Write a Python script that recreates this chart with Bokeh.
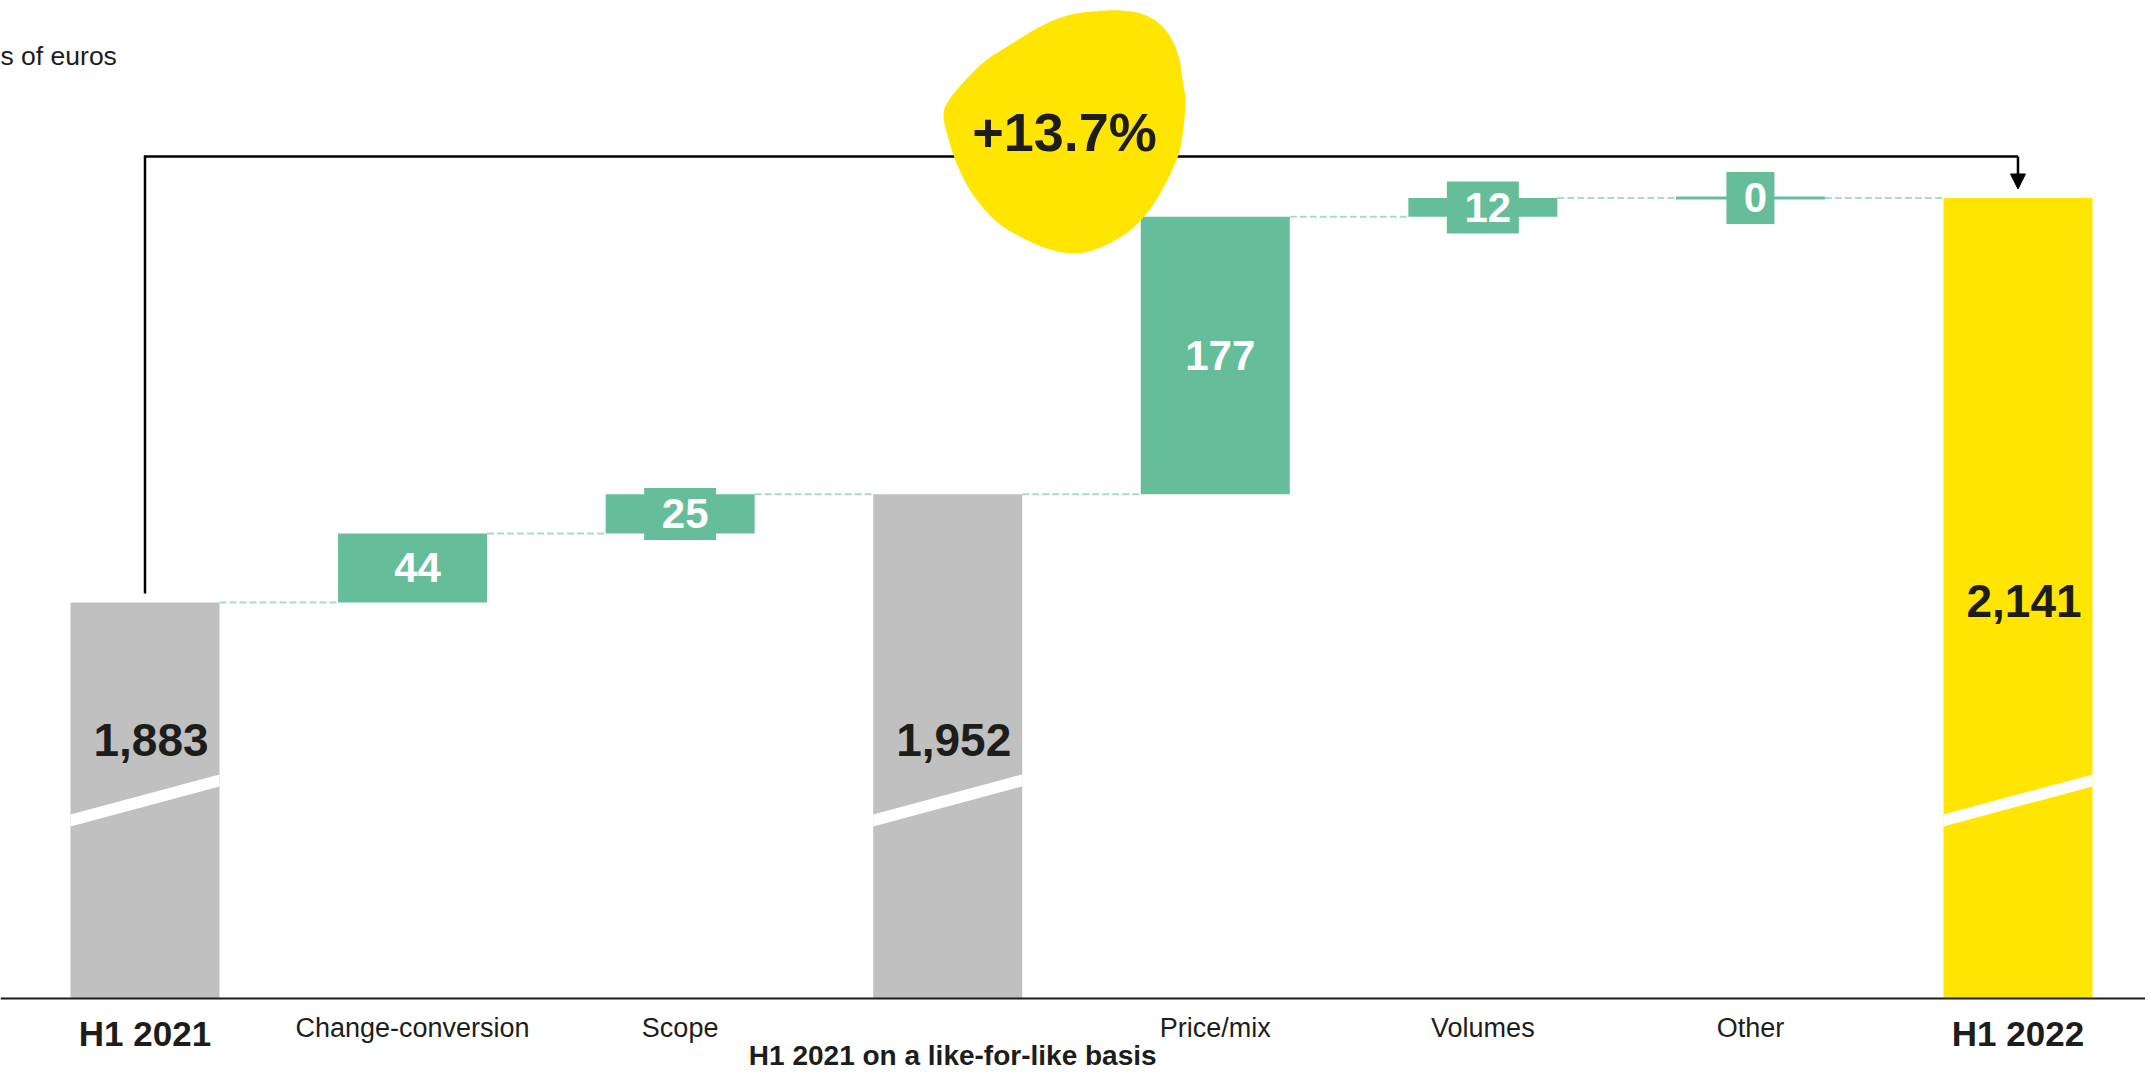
from bokeh.plotting import figure
from bokeh.models import Span, Arrow, NormalHead
from bokeh.core.properties import value
from bokeh.embed import file_html
from bokeh.resources import INLINE

# ---------------- data ----------------
categories = ["H1 2021", "Change-conversion", "Scope", "H1 2021 on a like-for-like basis",
              "Price/mix", "Volumes", "Other", "H1 2022"]
kinds = ["total", "delta", "delta", "total", "delta", "delta", "delta", "total"]
values = [1883, 44, 25, 1952, 177, 12, 0, 2141]
value_labels = ["1,883", "44", "25", "1,952", "177", "12", "0", "2,141"]
growth_label = "+13.7%"
unit_label = "s of euros"

# ---------------- layout / style ----------------
W, H = 2145, 1075
PX_PER_CAT = 267.57
X0_PX = 144.5
PX_PER_UNIT = 1.5678
FLOOR = 1630.4          # value drawn at the (broken) baseline
BASE_PX = 998           # baseline position from top of canvas
BAR_W = 149 / PX_PER_CAT

GREEN = "#66BD99"
GREY = "#C0C0C0"
YELLOW = "#FFE500"
DARK = "#1D1D1B"
CONNECT = "#A8DCC6"
FONT = "Liberation Sans"


def dx(px):
    return px / PX_PER_CAT


def dy(px):
    return px / PX_PER_UNIT


x_start = -X0_PX / PX_PER_CAT
x_end = x_start + W / PX_PER_CAT
y_end = FLOOR + BASE_PX / PX_PER_UNIT
y_start = FLOOR - (H - BASE_PX) / PX_PER_UNIT

p = figure(width=W, height=H, x_range=(x_start, x_end), y_range=(y_start, y_end),
           output_backend="svg", toolbar_location=None, min_border=0)
p.axis.visible = False
p.grid.visible = False
p.outline_line_color = None
p.background_fill_color = "white"

# ---------------- compute waterfall ----------------
xs = list(range(len(categories)))
bottoms, tops, levels_after = [], [], []
level = 0
for k, v in zip(kinds, values):
    if k == "total":
        bottoms.append(FLOOR)
        tops.append(v)
        level = v
    else:
        bottoms.append(level)
        tops.append(level + v)
        level = level + v
    levels_after.append(level)

# connectors
for i in range(len(xs) - 1):
    p.segment(x0=xs[i] + BAR_W / 2, y0=levels_after[i], x1=xs[i + 1] - BAR_W / 2,
              y1=levels_after[i], line_color=CONNECT, line_width=2, line_dash="7 3")

# bracket with arrow (drawn behind the blob)
BRACKET_Y = 2141 + dy(41.5)
p.line(x=[xs[0], xs[0], xs[-1]], y=[values[0] + dy(9), BRACKET_Y, BRACKET_Y],
       line_color="black", line_width=2.5, line_join="miter")
p.add_layout(Arrow(end=NormalHead(size=15, fill_color="black", line_color="black"),
                   x_start=xs[-1], y_start=BRACKET_Y, x_end=xs[-1], y_end=values[-1] + dy(9),
                   line_color="black", line_width=2.5))

# bars
for i, k in enumerate(kinds):
    if k == "total":
        col = YELLOW if i == len(kinds) - 1 else GREY
        p.vbar(x=[xs[i]], bottom=[bottoms[i]], top=[tops[i]], width=BAR_W,
               fill_color=col, line_color=None)
    else:
        if values[i] == 0:
            p.segment(x0=xs[i] - BAR_W / 2, y0=bottoms[i], x1=xs[i] + BAR_W / 2, y1=bottoms[i],
                      line_color=GREEN, line_width=3)
        else:
            p.vbar(x=[xs[i]], bottom=[bottoms[i]], top=[tops[i]], width=BAR_W,
                   fill_color=GREEN, line_color=None)
        # label box for small deltas
        if abs(values[i]) * PX_PER_UNIT < 52:
            n = len(value_labels[i])
            p.rect(x=[xs[i]], y=[(bottoms[i] + tops[i]) / 2], width=dx(24 * n + 24), height=dy(52),
                   fill_color=GREEN, line_color=None)

# axis breaks (white slanted stripes)
BREAK_Y = 1744.0
BREAK_RISE = dy(40)
BREAK_GAP = dy(12)
for i, k in enumerate(kinds):
    if k == "total":
        x0, x1 = xs[i] - BAR_W / 2, xs[i] + BAR_W / 2
        p.patch(x=[x0, x1, x1, x0],
                y=[BREAK_Y - BREAK_GAP / 2, BREAK_Y + BREAK_RISE - BREAK_GAP / 2,
                   BREAK_Y + BREAK_RISE + BREAK_GAP / 2, BREAK_Y + BREAK_GAP / 2],
                fill_color="white", line_color=None)

# baseline
p.add_layout(Span(location=FLOOR, dimension="width", line_color=DARK, line_width=2))

# value labels
for i, k in enumerate(kinds):
    if k == "total":
        ly = 1884 if i == len(kinds) - 1 else 1795
        p.text(x=[xs[i] + dx(6)], y=[ly], text=[value_labels[i]], text_align="center",
               text_baseline="middle", text_font=value(FONT), text_font_style="bold",
               text_font_size=value("46px"), text_color=DARK)
    else:
        p.text(x=[xs[i] + dx(5)], y=[(bottoms[i] + tops[i]) / 2], text=[value_labels[i]],
               text_align="center", text_baseline="middle", text_font=value(FONT),
               text_font_style="bold", text_font_size=value("42px"), text_color="white")

# category labels
for i, k in enumerate(kinds):
    if k == "total" and i in (0, len(kinds) - 1):
        p.text(x=[xs[i]], y=[FLOOR - dy(35)], text=[categories[i]], text_align="center",
               text_baseline="middle", text_font=value(FONT), text_font_style="bold",
               text_font_size=value("35px"), text_color=DARK)
    elif k == "total":
        p.text(x=[xs[i] + dx(5)], y=[FLOOR - dy(57)], text=[categories[i]], text_align="center",
               text_baseline="middle", text_font=value(FONT), text_font_style="bold",
               text_font_size=value("28px"), text_color=DARK)
    else:
        p.text(x=[xs[i]], y=[FLOOR - dy(29)], text=[categories[i]], text_align="center",
               text_baseline="middle", text_font=value(FONT),
               text_font_size=value("27px"), text_color=DARK)

# growth blob (decorative outline in px offsets from the label centre)
BLOB_CX, BLOB_CY = 3.4365, 2182.8
BLOB_OUTLINE_PX = [(29, -121), (56, -122), (79, -118), (99, -105), (113, -80), (119, -47),
                   (121, -30), (118, 3), (113, 25), (99, 55), (83, 80), (63, 100), (36, 115),
                   (13, 121), (-11, 118), (-37, 108), (-67, 90), (-91, 63), (-107, 33),
                   (-117, 3), (-121, -17), (-117, -30), (-104, -47), (-81, -70), (-54, -88),
                   (-24, -106), (3, -117)]


def smooth(pts, steps=8):
    out = []
    n = len(pts)
    for i in range(n):
        p0, p1, p2, p3 = pts[i - 1], pts[i], pts[(i + 1) % n], pts[(i + 2) % n]
        for s in range(steps):
            t = s / steps
            t2, t3 = t * t, t * t * t
            out.append(tuple(0.5 * (2 * p1[j] + (-p0[j] + p2[j]) * t +
                                    (2 * p0[j] - 5 * p1[j] + 4 * p2[j] - p3[j]) * t2 +
                                    (-p0[j] + 3 * p1[j] - 3 * p2[j] + p3[j]) * t3) for j in range(2)))
    return out


blob = smooth(BLOB_OUTLINE_PX)
p.patch(x=[BLOB_CX + dx(a) for a, b in blob], y=[BLOB_CY - dy(b) for a, b in blob],
        fill_color=YELLOW, line_color=None)
p.text(x=[BLOB_CX], y=[BLOB_CY], text=[growth_label], text_align="center", text_baseline="middle",
       text_font=value(FONT), text_font_style="bold", text_font_size=value("54px"), text_color=DARK)

# unit label
p.text(x=[x_start], y=[FLOOR + dy(943)], text=[unit_label], text_align="left", text_baseline="middle",
       text_font=value(FONT), text_font_size=value("26.5px"), text_color=DARK)

open("out.html", "w").write(file_html(p, INLINE))
